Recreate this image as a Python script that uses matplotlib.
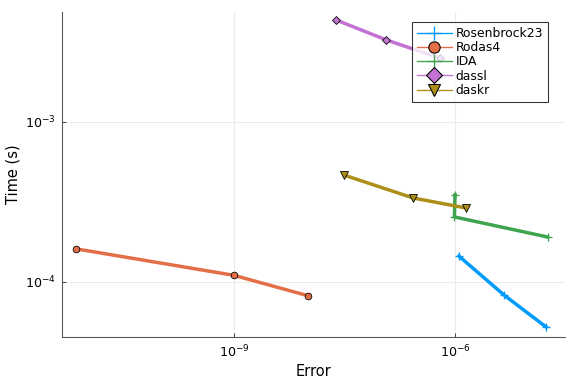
import matplotlib
matplotlib.use("Agg")
import matplotlib.pyplot as plt
from matplotlib.lines import Line2D

names = ["Rosenbrock23", "Rodas4", "IDA", "dassl", "daskr"]
colors = ["#009AFA", "#E36F47", "#3EA44E", "#C371D2", "#AC8E18"]
markers = ["+", "o", "+", "D", "v"]

ros_err = [1.13e-6, 4.6e-6, 1.72e-5]
ros_time = [1.45e-4, 8.3e-5, 5.23e-5]
rodas_err = [7.2e-12, 1.0e-9, 1.01e-8]
rodas_time = [1.61e-4, 1.1e-4, 8.2e-5]
ida_err = [1.0e-6, 0.98e-6, 1.8e-5]
ida_time = [3.5e-4, 2.55e-4, 1.91e-4]
dassl_err = [2.43e-8, 1.16e-7, 6.3e-7]
dassl_time = [4.34e-3, 3.26e-3, 2.5e-3]
daskr_err = [3.1e-8, 2.69e-7, 1.41e-6]
daskr_time = [4.66e-4, 3.35e-4, 2.9e-4]

errs = [ros_err, rodas_err, ida_err, dassl_err, daskr_err]
times = [ros_time, rodas_time, ida_time, dassl_time, daskr_time]
msizes = [6, 5, 6, 4, 6]

fig = plt.figure(figsize=(6, 4), dpi=96)
ax = fig.add_axes([0.1076, 0.1224, 0.8734, 0.8464])
for n, c, m, e, t, ms in zip(names, colors, markers, errs, times, msizes):
    ax.plot(e, t, color=c, lw=2.6, marker=m, ms=ms,
            mec=c if m == "+" else "black", mew=1 if m == "+" else 0.6,
            label=n, zorder=3)
ax.set_xscale("log")
ax.set_yscale("log")
ax.set_xlim(10**-11.335, 10**-4.507)
ax.set_ylim(10**-4.344, 10**-2.3125)
ax.set_xticks([1e-9, 1e-6])
ax.set_yticks([1e-4, 1e-3])
ax.minorticks_off()
ax.tick_params(labelsize=9.5, length=3, direction="in", color="#444444", pad=5)
ax.grid(True, color="#EBEBEB", lw=0.8)
ax.set_axisbelow(True)
for s in ["top", "right"]:
    ax.spines[s].set_visible(False)
for s in ["left", "bottom"]:
    ax.spines[s].set_color("#555555")
ax.set_xlabel("Error", fontsize=11, labelpad=3)
ax.set_ylabel("Time (s)", fontsize=11, labelpad=3)

handles = []
for n, c, m in zip(names, colors, markers):
    handles.append(Line2D([], [], color=c, lw=1, marker=m, ms=8.5 if m != "+" else 10,
                          mec=c if m == "+" else "black", mew=1 if m == "+" else 0.8))
leg = ax.legend(handles, names, loc="upper right", bbox_to_anchor=(0.966, 0.969),
                borderaxespad=0,
                fontsize=9.3, frameon=True, fancybox=False, edgecolor="black",
                handlelength=2.8, labelspacing=0.1, borderpad=0.4, handletextpad=0.3)
leg.get_frame().set_linewidth(0.8)
fig.savefig("out.png", dpi=96)
